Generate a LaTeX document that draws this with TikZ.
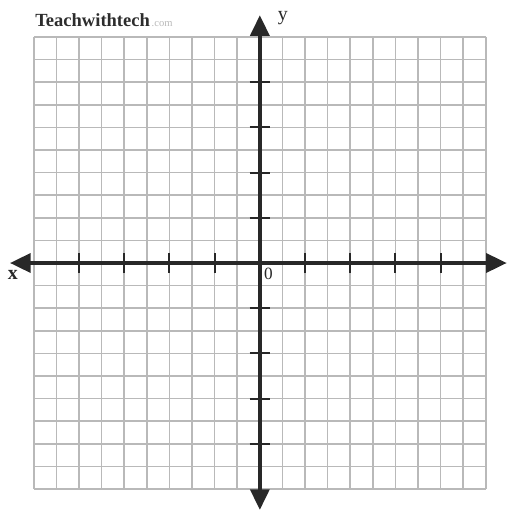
\documentclass[tikz,border=0pt]{standalone}
\usepackage{fontspec}
\setmainfont{Liberation Serif}
\definecolor{GridGray}{RGB}{185,185,185}
\definecolor{AxisDark}{RGB}{40,40,40}
\definecolor{LogoGray}{RGB}{45,45,45}
\usetikzlibrary{positioning, arrows.meta}

\begin{document}
\begin{tikzpicture}[
  x=0.6cm, y=0.6cm,
  gridline/.style={GridGray, line width=1.2pt},
  axis/.style={-{Triangle[length=0.55cm, width=0.5cm]}, AxisDark, line width=3pt},
  tick/.style={AxisDark, line width=1.5pt},
  label/.style={font=\fontsize{15}{15}\selectfont, text=AxisDark, inner sep=0pt}
]
\useasboundingbox (-11.5,-11.02) rectangle (11.02,11.64);

% Grid
\foreach \i in {-10,...,10} {
  \draw[gridline] (\i,-10) -- (\i,10);
  \draw[gridline] (-10,\i) -- (10,\i);
}

% Axes
\coordinate (origin) at (0,0);
\coordinate (xleft) at (-11.06,0);
\coordinate (xright) at (10.93,0);
\coordinate (ytop) at (0,10.97);
\coordinate (ybottom) at (0,-10.93);
\draw[axis] (origin) -- (xleft);
\draw[axis] (origin) -- (xright);
\draw[axis] (origin) -- (ytop);
\draw[axis] (origin) -- (ybottom);

% Ticks
\foreach \t in {-8,-6,-4,-2,2,4,6,8} {
  \draw[tick] (\t,-0.45) -- (\t,0.45);
  \draw[tick] (-0.45,\t) -- (0.45,\t);
}

% Labels
\node[label, font=\fontsize{15}{15}\bfseries] (xlabel) at (-10.93,-0.55) {x};
\node[label] (ylabel) at (1.02,10.85) {y};
\node[label, font=\fontsize{13}{13}\selectfont] (zero) at (0.38,-0.5) {0};

% Logo
\node[anchor=base west, inner sep=0pt, text=LogoGray, font=\fontsize{14}{14}\bfseries] (logo) at (-9.95,10.45) {Teachwithtech};
\node[inner sep=0pt, text=GridGray, font=\fontsize{8}{8}\selectfont, right=1pt of logo.base east, anchor=base west] (logodot) {.com};

\end{tikzpicture}
\end{document}
